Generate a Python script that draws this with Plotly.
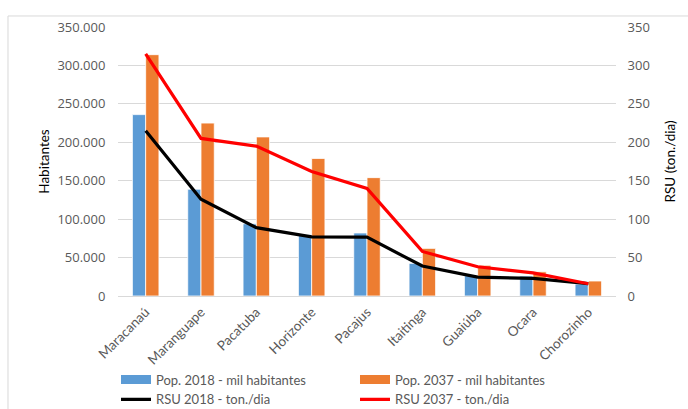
import plotly.graph_objects as go

municipios = ["Maracanaú", "Maranguape", "Pacatuba", "Horizonte", "Pacajus",
              "Itaitinga", "Guaiúba", "Ocara", "Chorozinho"]
pop_2018 = [236000, 139000, 94000, 80000, 82000, 42500, 26500, 26000, 15500]
pop_2037 = [314000, 225000, 207000, 179000, 154000, 62000, 40000, 31500, 19500]
rsu_2018 = [215, 126, 89, 77, 76.5, 39, 24.5, 23, 16]
rsu_2037 = [315, 205, 195, 162, 140, 58, 38, 30, 16]

font_family = "Lato, 'Liberation Sans', Arial, sans-serif"
num_family = "'Open Sans', 'Liberation Sans', Arial, sans-serif"
txt_color = "#595959"
clear = "rgba(0,0,0,0)"
blue = "#5B9BD5"
orange = "#ED7D31"

fig = go.Figure()
fig.add_trace(go.Bar(x=municipios, y=pop_2018, name="Pop. 2018 - mil habitantes",
                     showlegend=False, legendgroup="p18",
                     marker=dict(color=blue, line=dict(color="white", width=0.8))))
fig.add_trace(go.Bar(x=municipios, y=pop_2037, name="Pop. 2037 - mil habitantes",
                     showlegend=False, legendgroup="p37",
                     marker=dict(color=orange, line=dict(color="white", width=0.8))))
# legend entries drawn as wide rectangles (like the reference swatches)
fig.add_trace(go.Scatter(x=[None], y=[None], name="Pop. 2018 - mil habitantes",
                         legendgroup="p18", mode="lines", line=dict(color=blue, width=9)))
fig.add_trace(go.Scatter(x=[None], y=[None], name="Pop. 2037 - mil habitantes",
                         legendgroup="p37", mode="lines", line=dict(color=orange, width=9)))
fig.add_trace(go.Scatter(x=municipios, y=rsu_2018, name="RSU 2018 - ton./dia", yaxis="y2",
                         mode="lines", line=dict(color="black", width=3.2)))
fig.add_trace(go.Scatter(x=municipios, y=rsu_2037, name="RSU 2037 - ton./dia", yaxis="y2",
                         mode="lines", line=dict(color="#FF0000", width=3.2)))

fig.update_layout(
    width=688, height=409,
    margin=dict(l=118, r=72, t=27, b=113),
    paper_bgcolor="white", plot_bgcolor="white",
    separators=",.",
    barmode="group", bargap=0.52, bargroupgap=0.0,
    font=dict(family=font_family, size=13, color=txt_color),
    xaxis=dict(tickangle=-45, tickfont=dict(size=13.5, color=txt_color), showgrid=False,
               showline=True, linecolor="#d9d9d9", ticks="outside", ticklen=2,
               tickcolor=clear, automargin=False),
    yaxis=dict(range=[0, 350000], dtick=50000, tickformat=",d", showgrid=True,
               gridcolor="#d9d9d9", gridwidth=1, zeroline=False, automargin=False,
               ticks="outside", ticklen=9, tickcolor=clear,
               title=dict(text="Habitantes", font=dict(size=13.5, color="black"), standoff=4),
               tickfont=dict(size=13, color=txt_color, family=num_family)),
    yaxis2=dict(range=[0, 350], dtick=50, overlaying="y", side="right", showgrid=False,
                zeroline=False, automargin=False,
                ticks="outside", ticklen=8, tickcolor=clear,
                title=dict(text="RSU (ton./dia)", font=dict(size=13.5, color="black"), standoff=16),
                tickfont=dict(size=13, color=txt_color, family=num_family)),
    legend=dict(orientation="h", xref="container", yref="container",
                x=0.1686, xanchor="left", y=0.1088, yanchor="top",
                entrywidth=194, font=dict(size=13, color=txt_color), traceorder="normal"),
    shapes=[dict(type="rect", xref="paper", yref="paper", x0=-0.2209, x1=1.3, y0=-0.6, y1=1.041,
                 line=dict(color="#d9d9d9", width=1), fillcolor=clear, layer="below")],
)

fig.write_html("out.html")
